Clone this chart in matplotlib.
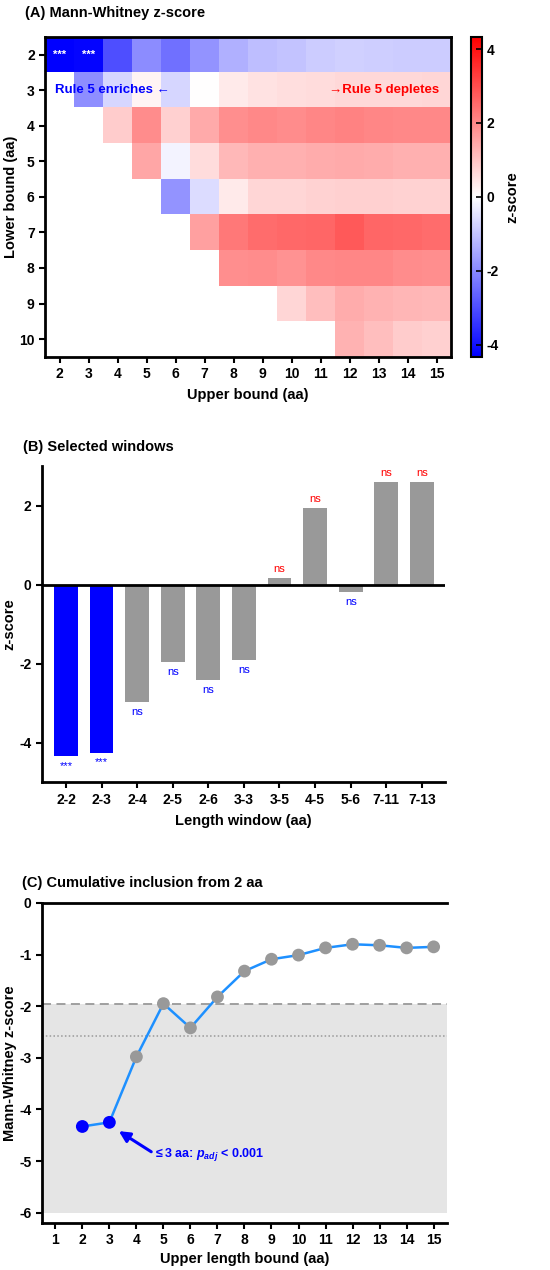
import numpy as np
import matplotlib
matplotlib.use('Agg')
import matplotlib.pyplot as plt
from matplotlib.colors import LinearSegmentedColormap

plt.rcParams['font.family'] = ['Liberation Sans', 'DejaVu Sans']
plt.rcParams['font.weight'] = 'bold'
plt.rcParams['axes.labelweight'] = 'bold'
plt.rcParams['axes.unicode_minus'] = False
plt.rcParams['mathtext.fontset'] = 'custom'
plt.rcParams['mathtext.it'] = 'Liberation Sans:bold:italic'
plt.rcParams['mathtext.rm'] = 'Liberation Sans:bold'

# --- DATA ---
upper_bounds = list(range(2, 16))
lower_bounds = list(range(2, 11))
nan = np.nan
# rows = lower bound 2..10, cols = upper bound 2..15
row2 = [-4.33, -4.25, -2.98, -1.95, -2.42, -1.82, -1.32, -1.09, -1.01, -0.87, -0.80, -0.82, -0.87, -0.85]
row3 = [nan, -1.90, -0.70, 0.18, -0.70, 0.02, 0.35, 0.50, 0.55, 0.60, 0.65, 0.65, 0.65, 0.70]
row4 = [nan, nan, 0.85, 1.95, 0.80, 1.45, 1.90, 2.00, 1.95, 2.05, 2.10, 2.05, 2.00, 2.00]
row5 = [nan, nan, nan, 1.50, -0.18, 0.60, 1.20, 1.35, 1.35, 1.40, 1.45, 1.40, 1.35, 1.35]
row6 = [nan, nan, nan, nan, -1.80, -0.60, 0.35, 0.70, 0.70, 0.75, 0.80, 0.80, 0.75, 0.75]
row7 = [nan, nan, nan, nan, nan, 1.60, 2.30, 2.50, 2.55, 2.60, 2.80, 2.60, 2.55, 2.50]
row8 = [nan, nan, nan, nan, nan, nan, 1.90, 1.95, 1.85, 2.00, 2.05, 2.05, 1.95, 1.90]
row9 = [nan, nan, nan, nan, nan, nan, nan, nan, 0.70, 1.10, 1.40, 1.30, 1.25, 1.20]
row10 = [nan, nan, nan, nan, nan, nan, nan, nan, nan, nan, 1.30, 1.10, 0.85, 0.80]

windows = ['2-2', '2-3', '2-4', '2-5', '2-6', '3-3', '3-5', '4-5', '5-6', '7-11', '7-13']
window_z = [-4.33, -4.25, -2.98, -1.95, -2.42, -1.90, 0.18, 1.95, -0.18, 2.60, 2.60]
window_sig = ['***', '***', 'ns', 'ns', 'ns', 'ns', 'ns', 'ns', 'ns', 'ns', 'ns']

cum_upper = list(range(2, 16))
cum_z = [-4.33, -4.25, -2.98, -1.95, -2.42, -1.82, -1.32, -1.09, -1.01, -0.87, -0.80, -0.82, -0.87, -0.85]
cum_sig = [True, True] + [False] * 12

BLUE = '#0000ff'
RED = '#ff0000'
GRAY = '#999999'
TITLE_FS = 10.5
LABEL_FS = 10.5
TICK_FS = 10

fig = plt.figure(figsize=(5.5, 12.7), dpi=100)

# --- (A) heatmap ---
Z = np.ma.masked_invalid(np.array([row2, row3, row4, row5, row6, row7, row8, row9, row10]))
cmap = LinearSegmentedColormap.from_list('bwr_pure', [BLUE, '#ffffff', RED])
axA = fig.add_axes([0.082, 0.719, 0.738, 0.252])
im = axA.imshow(Z, cmap=cmap, vmin=-4.33, vmax=4.33, aspect='auto',
                extent=(upper_bounds[0] - 0.5, upper_bounds[-1] + 0.5,
                        lower_bounds[-1] + 0.5, lower_bounds[0] - 0.5),
                interpolation='nearest')
axA.set_xticks(upper_bounds)
axA.set_yticks(lower_bounds)
axA.tick_params(width=1.5, length=4, labelsize=TICK_FS)
for s in axA.spines.values():
    s.set_linewidth(2)
axA.set_xlabel('Upper bound (aa)', fontsize=LABEL_FS, labelpad=5)
axA.set_ylabel('Lower bound (aa)', fontsize=LABEL_FS)
axA.yaxis.set_label_coords(-0.066, 0.5)
for c in (2, 3):
    axA.text(c, 2, '***', color='white', ha='center', va='center', fontsize=8)
axA.text(1.85, 3, 'Rule 5 enriches \u2190', color=BLUE, ha='left', va='center', fontsize=9.5)
axA.text(15.1, 3, '\u2192Rule 5 depletes', color=RED, ha='right', va='center', fontsize=9.5)
fig.text(0.045, 0.990, '(A) Mann-Whitney z-score', fontsize=TITLE_FS, va='center')

cax = fig.add_axes([0.856, 0.719, 0.02, 0.252])
cb = fig.colorbar(im, cax=cax, ticks=[-4, -2, 0, 2, 4])
cb.outline.set_linewidth(1.5)
cax.tick_params(width=1.2, length=4, direction='in', labelsize=TICK_FS)
cb.set_label('z-score', fontsize=LABEL_FS, labelpad=5)

# --- (B) selected windows ---
axB = fig.add_axes([0.076, 0.384, 0.733, 0.249])
xb = np.arange(len(windows))
colors = [BLUE if s == '***' else GRAY for s in window_sig]
axB.bar(xb, window_z, width=0.67, color=colors, zorder=2)
axB.axhline(0, color='black', lw=2, zorder=3)
for x, z, s in zip(xb, window_z, window_sig):
    if z < 0:
        axB.text(x, z - 0.12, s, color=BLUE, ha='center', va='top', fontsize=8, fontweight='normal')
    else:
        axB.text(x, z + 0.1, s, color=RED, ha='center', va='bottom', fontsize=8, fontweight='normal')
axB.set_xlim(-0.68, len(windows) - 0.35)
axB.set_ylim(-5, 3)
axB.set_yticks([-4, -2, 0, 2])
axB.set_xticks(xb)
axB.set_xticklabels(windows)
axB.spines['top'].set_visible(False)
axB.spines['right'].set_visible(False)
for s in ('left', 'bottom'):
    axB.spines[s].set_linewidth(2)
axB.tick_params(width=1.5, length=4, labelsize=TICK_FS)
axB.set_xlabel('Length window (aa)', fontsize=LABEL_FS, labelpad=5)
axB.set_ylabel('z-score', fontsize=LABEL_FS)
axB.yaxis.set_label_coords(-0.064, 0.5)
fig.text(0.042, 0.648, '(B) Selected windows', fontsize=TITLE_FS, va='center')

# --- (C) cumulative inclusion ---
axC = fig.add_axes([0.076, 0.037, 0.737, 0.252])
axC.axhspan(-6, -1.96, color='#e5e5e5', zorder=0, lw=0)
axC.axhline(-1.96, color='#999999', ls=(0, (5, 3)), lw=1.3, zorder=1)
axC.axhline(-2.58, color='#999999', ls=(0, (1, 1.5)), lw=1.1, zorder=1)
axC.plot(cum_upper, cum_z, color='#1e90ff', lw=1.8, zorder=2)
pc = [BLUE if s else GRAY for s in cum_sig]
axC.scatter(cum_upper, cum_z, s=85, c=pc, zorder=3, edgecolors='none')
axC.annotate('', xy=(3.35, -4.42), xytext=(4.55, -4.82),
             arrowprops=dict(arrowstyle='-|>', color=BLUE, lw=2.2, mutation_scale=16,
                             shrinkA=0, shrinkB=0))
axC.text(4.62, -4.87, r'$\leq$3 aa: $p_{adj}$ < 0.001', color=BLUE, fontsize=9,
         va='center', ha='left')
axC.set_xlim(0.5, 15.5)
axC.set_ylim(-6.2, 0)
axC.set_xticks(range(1, 16))
axC.set_yticks([0, -1, -2, -3, -4, -5, -6])
axC.spines['right'].set_visible(False)
for s in ('left', 'bottom', 'top'):
    axC.spines[s].set_linewidth(2)
axC.tick_params(width=1.5, length=4, labelsize=TICK_FS)
axC.set_xlabel('Upper length bound (aa)', fontsize=LABEL_FS, labelpad=3)
axC.set_ylabel('Mann-Whitney z-score', fontsize=LABEL_FS)
axC.yaxis.set_label_coords(-0.062, 0.5)
fig.text(0.04, 0.305, '(C) Cumulative inclusion from 2 aa', fontsize=TITLE_FS, va='center')

fig.savefig('out.png', dpi=100)
